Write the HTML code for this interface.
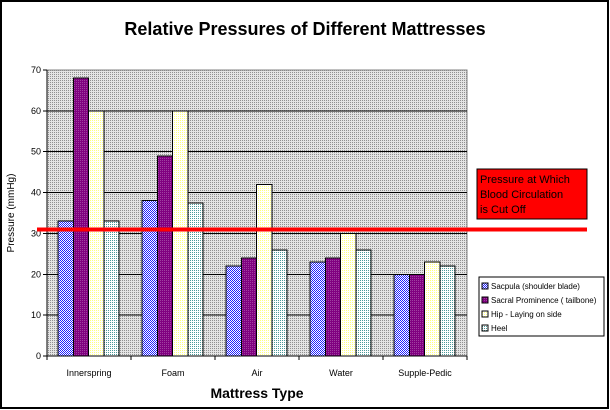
<!DOCTYPE html>
<html><head><meta charset="utf-8"><style>
html,body{margin:0;padding:0;background:#fff}
svg{display:block;font-family:"Liberation Sans",Arial,sans-serif}
</style></head><body>
<svg width="610" height="410" viewBox="0 0 610 410" xmlns="http://www.w3.org/2000/svg" shape-rendering="crispEdges">
<defs>
<pattern id="bg" width="2" height="2" patternUnits="userSpaceOnUse"><rect width="2" height="2" fill="#e4e4e4"/><rect width="1" height="1" fill="#909090"/></pattern>
<pattern id="pBlue" width="2" height="2" patternUnits="userSpaceOnUse"><rect width="2" height="2" fill="#fff"/><rect width="1" height="1" fill="#2020ff"/><rect x="1" y="1" width="1" height="1" fill="#2020ff"/></pattern>
<pattern id="pPurple" width="2" height="2" patternUnits="userSpaceOnUse"><rect width="2" height="2" fill="#800080"/><rect width="1" height="1" fill="#a040a0"/></pattern>
<pattern id="pYellow" width="2" height="2" patternUnits="userSpaceOnUse"><rect width="2" height="2" fill="#fff"/><rect width="1" height="1" fill="#ffff80"/></pattern>
<pattern id="pTeal" width="2" height="2" patternUnits="userSpaceOnUse"><rect width="2" height="2" fill="#fff"/><rect width="1" height="1" fill="#4c9a9a"/></pattern>
</defs>
<rect x="1" y="1" width="607" height="407" fill="#fff" stroke="#000" stroke-width="2"/>
<text x="305" y="35" text-anchor="middle" font-size="18" font-weight="bold">Relative Pressures of Different Mattresses</text>
<rect x="47" y="70" width="420" height="286" fill="url(#bg)" stroke="#808080"/>
<g id="grid"></g>
<g id="bars"></g>
<g id="axes"></g>
<text transform="translate(14,213) rotate(-90)" text-anchor="middle" font-size="10">Pressure (mmHg)</text>
<text x="257" y="398" text-anchor="middle" font-size="14" font-weight="bold">Mattress Type</text>
<line id="threshold" x1="37" x2="587" stroke="#ff0000" stroke-width="4"/>
<g>
<rect x="477" y="169" width="110" height="50" fill="#ff0000" stroke="#000"/>
<text font-size="11" fill="#000"><tspan x="480" y="183">Pressure at Which</tspan><tspan x="480" y="198">Blood Circulation</tspan><tspan x="480" y="213">is Cut Off</tspan></text>
</g>
<g>
<rect x="479" y="277" width="125" height="59" fill="#fff" stroke="#000"/>
<g><rect x="482" y="283" width="6" height="6" fill="url(#pBlue)" stroke="#000"/><text x="491" y="289" font-size="8">Sacpula (shoulder blade)</text></g>
<g><rect x="482" y="297" width="6" height="6" fill="url(#pPurple)" stroke="#000"/><text x="491" y="303" font-size="8">Sacral Prominence ( tailbone)</text></g>
<g><rect x="482" y="311" width="6" height="6" fill="url(#pYellow)" stroke="#000"/><text x="491" y="317" font-size="8">Hip - Laying on side</text></g>
<g><rect x="482" y="325" width="6" height="6" fill="url(#pTeal)" stroke="#000"/><text x="491" y="331" font-size="8">Heel</text></g>
</g>
</svg>
<script>
const categories = ["Innerspring","Foam","Air","Water","Supple-Pedic"];
const scapula = [33,38,22,23,20];
const sacral = [68,49,24,24,20];
const hip = [60,60,42,30,23];
const heel = [33,37.5,26,26,22];
const yTicks = [0,10,20,30,40,50,60,70];
const threshold = 31;
const NS="http://www.w3.org/2000/svg";
const X0=47,X1=467,Y0=356,Y1=70,YMAX=70;
const y=v=>Y0-(v/YMAX)*(Y0-Y1);
const bw=(X1-X0)/categories.length;
const xc=i=>X0+i*bw;
function mk(t,a,p){const e=document.createElementNS(NS,t);for(const k in a)e.setAttribute(k,a[k]);p.appendChild(e);return e;}
const grid=document.getElementById('grid'),bars=document.getElementById('bars'),axes=document.getElementById('axes');
yTicks.forEach(t=>{
  if(t>0&&t<YMAX){const l=mk('line',{x1:X0,x2:X1,y1:y(t),y2:y(t),stroke:'#000'},grid);
  
  }
  const tk=mk('line',{x1:X0-4,x2:X0,y1:y(t),y2:y(t),stroke:'#000'},axes);
  
  
  const tx=mk('text',{x:X0-6,y:y(t)+3,'text-anchor':'end','font-size':9},axes);tx.textContent=t;
  
  
});
const series=[[scapula,'url(#pBlue)','scapula'],[sacral,'url(#pPurple)','sacral'],[hip,'url(#pYellow)','hip'],[heel,'url(#pTeal)','heel']];
const barW=15.3, off=11;
categories.forEach((c,i)=>{
  series.forEach(([arr,fill,nm],s)=>{
    const r=mk('rect',{x:xc(i)+off+s*barW,y:y(arr[i]),width:barW,height:Y0-y(arr[i]),fill:fill,stroke:'#000','stroke-width':1},bars);
    
    
  });
  const tx=mk('text',{x:xc(i)+bw/2,y:376,'text-anchor':'middle','font-size':9},axes);tx.textContent=c;
  
  
});
for(let i=0;i<=categories.length;i++){const t=mk('line',{x1:xc(i),x2:xc(i),y1:Y0,y2:Y0+4,stroke:'#000'},axes);
  
  }
const ax=mk('line',{x1:X0,x2:X1,y1:Y0,y2:Y0,stroke:'#000'},axes);


const ay=mk('line',{x1:X0,x2:X0,y1:Y1,y2:Y0,stroke:'#000'},axes);


const th=document.getElementById('threshold');th.setAttribute('y1',y(threshold));th.setAttribute('y2',y(threshold));
</script>
</body></html>
